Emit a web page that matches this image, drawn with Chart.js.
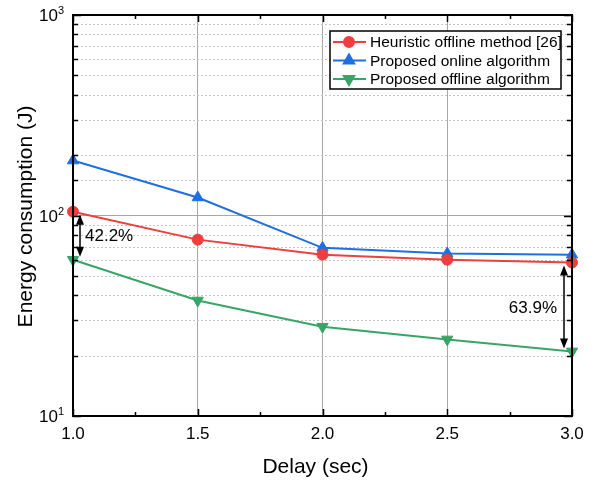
<!DOCTYPE html>
<html lang="en">
<head>
<meta charset="UTF-8"/>
<title>Energy consumption vs delay</title>
<script src="https://cdn.jsdelivr.net/npm/chart.js@4/dist/chart.umd.min.js"></script>
<style>
  *{box-sizing:border-box;margin:0;padding:0}
  html,body{width:596px;height:480px;background:#fff;overflow:hidden}
  .wrap{position:relative;width:596px;height:480px}
</style>
</head>
<body>
<div class="wrap"><canvas id="chart" width="596" height="480"></canvas></div>
<script>
// ── Data ─────────────────────────────────────────────────────────────────────
const delays    = [1.0, 1.5, 2.0, 2.5, 3.0];
const heuristic = [104.5, 75.8, 63.8, 60.2, 58.3];
const online    = [188, 123, 69, 64.6, 63.8];
const offline   = [60.2, 37.7, 27.9, 24.1, 21.0];
const yDecades  = [10, 100, 1000];
const yExponents = ['1', '2', '3'];
const notes = [
  { x: 1.0, top: 104.5, bottom: 60.2, text: '42.2%', side: 'right' },
  { x: 3.0, top: 58.3,  bottom: 21.0, text: '63.9%', side: 'left' },
];

const RED = '#EF3E3E', BLUE = '#1F6FE0', GREEN = '#38A566';
const FONT = '"Liberation Sans", Arial, sans-serif';

const series = [
  { label: 'Heuristic offline method [26]', data: heuristic, color: RED,   style: 'circle',   rot: 0,   r: 5.5 },
  { label: 'Proposed online algorithm',     data: online,    color: BLUE,  style: 'triangle', rot: 0,   r: 6.5 },
  { label: 'Proposed offline algorithm',    data: offline,   color: GREEN, style: 'triangle', rot: 180, r: 6.5 },
];

const isDecade = v => yDecades.includes(v);

// ── Custom drawing: minor grid, frame, inward ticks, legend, notes, titles ───
const decor = {
  id: 'decor',
  beforeDatasetsDraw(chart) {
    const { ctx, chartArea: a, scales: { y } } = chart;
    ctx.save();
    ctx.strokeStyle = '#c4c4c4';
    ctx.lineWidth = 1;
    ctx.setLineDash([2, 2]);
    y.ticks.forEach(t => {
      if (isDecade(t.value)) return;
      const py = Math.round(y.getPixelForValue(t.value)) + 0.5;
      ctx.beginPath(); ctx.moveTo(a.left, py); ctx.lineTo(a.right, py); ctx.stroke();
    });
    ctx.restore();
  },
  afterDatasetsDraw(chart) {
    const { ctx, chartArea: a, scales: { x, y } } = chart;
    ctx.save();
    // frame
    ctx.strokeStyle = '#000';
    ctx.lineWidth = 2;
    ctx.strokeRect(a.left, a.top, a.right - a.left, a.bottom - a.top);

    // inward ticks left/right
    ctx.lineWidth = 1.5;
    y.ticks.forEach(t => {
      const py = Math.round(y.getPixelForValue(t.value)) + 0.5;
      const len = isDecade(t.value) ? 8 : 5;
      ctx.beginPath();
      ctx.moveTo(a.left, py); ctx.lineTo(a.left + len, py);
      ctx.moveTo(a.right, py); ctx.lineTo(a.right - len, py);
      ctx.stroke();
    });
    // bottom/top ticks
    for (let v = 1.0; v <= 3.0001; v += 0.25) {
      const px = Math.round(x.getPixelForValue(v)) + 0.5;
      const len = Math.abs(v * 2 - Math.round(v * 2)) < 1e-6 ? 7 : 4;
      ctx.beginPath();
      ctx.moveTo(px, a.bottom); ctx.lineTo(px, a.bottom - len);
      ctx.moveTo(px, a.top); ctx.lineTo(px, a.top + len);
      ctx.stroke();
    }

    // y tick labels as 10 with superscript exponent
    ctx.fillStyle = '#000';
    ctx.textBaseline = 'alphabetic';
    yDecades.forEach((v, i) => {
      const py = y.getPixelForValue(v);
      ctx.font = '11px ' + FONT;
      ctx.textAlign = 'right';
      ctx.fillText(yExponents[i], 64, py - 1);
      ctx.font = '17px ' + FONT;
      ctx.fillText('10', 58, py + 6);
    });

    // double arrows with percentages
    ctx.strokeStyle = '#000';
    notes.forEach(n => {
      const off = n.side === 'right' ? 7 : -8;
      const px = x.getPixelForValue(n.x) + off;
      const y1 = y.getPixelForValue(n.top) + 3;
      const y2 = y.getPixelForValue(n.bottom) - 3;
      ctx.lineWidth = 1.5;
      ctx.beginPath(); ctx.moveTo(px, y1 + 8); ctx.lineTo(px, y2 - 8); ctx.stroke();
      [[y1, 1], [y2, -1]].forEach(([ty, d]) => {
        ctx.beginPath();
        ctx.moveTo(px, ty);
        ctx.lineTo(px - 4, ty + d * 10);
        ctx.lineTo(px + 4, ty + d * 10);
        ctx.closePath(); ctx.fill();
      });
      ctx.font = '17px ' + FONT;
      ctx.textBaseline = 'middle';
      ctx.textAlign = n.side === 'right' ? 'left' : 'right';
      const tx = n.side === 'right' ? px + 5 : px - 7;
      ctx.fillText(n.text, tx, (y1 + y2) / 2 + 1);
    });

    // legend box
    const lx = 330, ly = 31, lw = 231, lh = 58;
    ctx.fillStyle = '#fff';
    ctx.fillRect(lx, ly, lw, lh);
    ctx.lineWidth = 1.5;
    ctx.strokeStyle = '#000';
    ctx.strokeRect(lx, ly, lw, lh);
    chart.data.datasets.forEach((ds, i) => {
      const ry = ly + 11 + i * 18.5;
      ctx.strokeStyle = ds.borderColor;
      ctx.lineWidth = 2;
      ctx.beginPath(); ctx.moveTo(lx + 3, ry); ctx.lineTo(lx + 36, ry); ctx.stroke();
      ctx.fillStyle = ds.borderColor;
      Chart.helpers.drawPoint(ctx, {
        pointStyle: ds.pointStyle, rotation: ds.pointRotation,
        radius: ds.pointRadius - 0.5, borderWidth: 1
      }, lx + 19, ry);
      ctx.fillStyle = '#000';
      ctx.font = '15.5px ' + FONT;
      ctx.textAlign = 'left';
      ctx.textBaseline = 'middle';
      ctx.fillText(ds.label, lx + 40, ry + 1);
    });

    // axis titles
    ctx.fillStyle = '#000';
    ctx.font = '21px ' + FONT;
    ctx.textAlign = 'center';
    ctx.textBaseline = 'middle';
    ctx.fillText('Delay (sec)', (a.left + a.right) / 2 - 7, 467);
    ctx.translate(26, (a.top + a.bottom) / 2 + 1);
    ctx.rotate(-Math.PI / 2);
    ctx.fillText('Energy consumption (J)', 0, 0);
    ctx.restore();
  }
};

new Chart(document.getElementById('chart'), {
  type: 'line',
  data: {
    datasets: series.map(s => ({
      label: s.label,
      data: s.data.map((v, i) => ({ x: delays[i], y: v })),
      borderColor: s.color,
      backgroundColor: s.color,
      borderWidth: 2,
      pointStyle: s.style,
      pointRotation: s.rot,
      pointRadius: s.r,
      pointHoverRadius: s.r,
      pointBorderWidth: 1,
      pointBackgroundColor: s.color,
      pointBorderColor: s.color,
      tension: 0,
      clip: false,
    }))
  },
  options: {
    responsive: false,
    animation: false,
    events: [],
    layout: { padding: { top: 15, right: 24, left: 0, bottom: 0 } },
    plugins: { legend: { display: false }, tooltip: { enabled: false } },
    scales: {
      x: {
        type: 'linear', min: 1, max: 3,
        afterFit: s => { s.height = 64; },
        border: { display: false },
        grid: {
          drawTicks: false,
          color: c => (c.tick.value > 1 && c.tick.value < 3) ? '#a8a8a8' : 'rgba(0,0,0,0)',
          lineWidth: 1,
        },
        ticks: {
          stepSize: 0.5, padding: 8,
          color: '#000', font: { family: FONT, size: 17 },
          callback: v => v.toFixed(1),
        },
      },
      y: {
        type: 'logarithmic', min: 10, max: 1000,
        afterFit: s => { s.width = 73; },
        border: { display: false },
        grid: {
          drawTicks: false,
          color: c => c.tick.value === 100 ? '#a8a8a8' : 'rgba(0,0,0,0)',
          lineWidth: 1,
        },
        ticks: { autoSkip: false, display: false },
      },
    },
  },
  plugins: [decor],
});
</script>
</body>
</html>
